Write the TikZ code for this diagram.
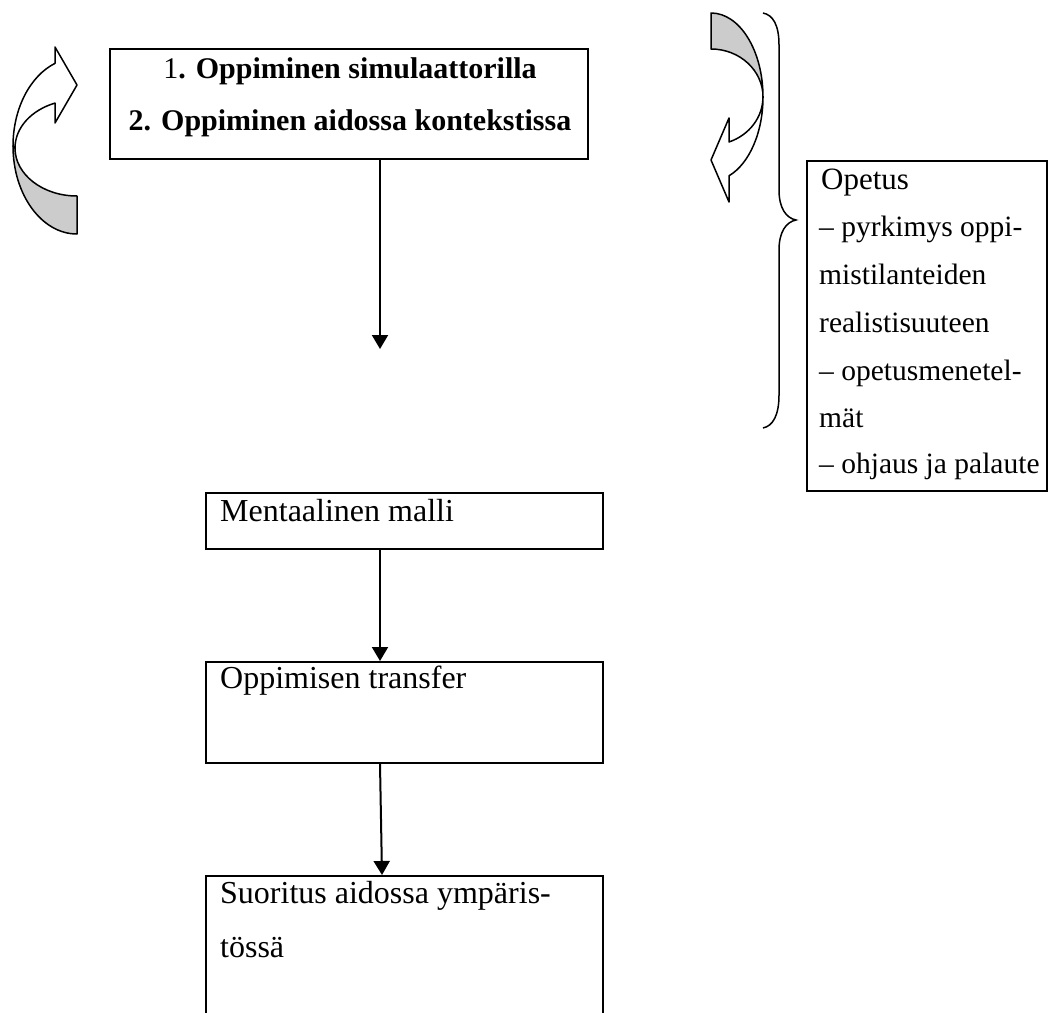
\documentclass[tikz,border=0pt]{standalone}
\usepackage{fontspec}
\setmainfont{Liberation Serif}
\usetikzlibrary{arrows.meta}
\begin{document}
\begin{tikzpicture}[x=1pt,y=-1pt,
  box/.style={draw, line width=2pt, inner sep=0pt, anchor=north west},
  bodytxt/.style={font=\fontsize{32}{38}\selectfont, inner sep=0pt, anchor=base west},
  toptxt/.style={font=\fontsize{30}{36}\selectfont, inner sep=0pt, anchor=base},
  sidetxt/.style={font=\fontsize{29.5}{36}\selectfont, inner sep=0pt, anchor=base west},
  conn/.style={line width=2pt, -{Triangle[length=14pt,width=16pt]}},
  curvline/.style={line width=1.5pt, line join=round},
  shadepart/.style={curvline, fill=black!20},
  frontpart/.style={curvline, fill=white}]
\useasboundingbox (0,0) rectangle (1048,1012);

% boxes
\node[box, minimum width=478pt, minimum height=110pt] (top) at (109,48) {};
\node[box, minimum width=397pt, minimum height=56pt] (ment) at (205,492) {};
\node[box, minimum width=397pt, minimum height=101pt] (trans) at (205,661) {};
\node[box, minimum width=397pt, minimum height=160pt] (suor) at (205,875) {};
\node[box, minimum width=240pt, minimum height=330pt] (opetus) at (806,160) {};

% texts
\node[toptxt] (t1) at (350,78) {1\textbf{. Oppiminen simulaattorilla}};
\node[toptxt] (t2) at (350,130) {\textbf{2. Oppiminen aidossa kontekstissa}};
\node[bodytxt] (m1) at (220,521) {Mentaalinen malli};
\node[bodytxt] (tr1) at (220,688) {Oppimisen transfer};
\node[bodytxt] (s1) at (220,903) {Suoritus aidossa ympäris-};
\node[bodytxt] (s2) at (220,957) {tössä};
\node[sidetxt, font=\fontsize{31}{36}\selectfont] (o1) at (821,189) {Opetus};
\node[sidetxt] (o2) at (819,236) {– pyrkimys oppi-};
\node[sidetxt] (o3) at (819,284) {mistilanteiden};
\node[sidetxt] (o4) at (819,332) {realistisuuteen};
\node[sidetxt] (o5) at (819,380) {– opetusmenetel-};
\node[sidetxt] (o6) at (819,427) {mät};
\node[sidetxt] (o7) at (819,473) {– ohjaus ja palaute};

% connectors
\coordinate (end1) at (380,349);
\draw[conn] (end1 |- top.south) -- (end1);
\draw[conn] ([xshift=-24.5pt]ment.south) -- ([xshift=-24.5pt]trans.north);
\draw[conn] ([xshift=-24.5pt]trans.south) -- ([xshift=-22.5pt]suor.north);

% left curved arrow
\draw[shadepart] (13,146) arc[start angle=180, end angle=90, x radius=64, y radius=88]
  -- (77,196) arc[start angle=90, end angle=180, x radius=62, y radius=48] -- cycle;
\draw[frontpart] (13,146) arc[start angle=180, end angle=250, x radius=64, y radius=88]
  -- (55,47) -- (77,85) -- (55,123) -- (55,103.1)
  arc[start angle=249.2, end angle=180, x radius=62, y radius=48] -- cycle;

% right curved arrow
\draw[shadepart] (711,13) arc[start angle=-90, end angle=0, x radius=52, y radius=84]
  arc[start angle=0, end angle=-90, x radius=52, y radius=48] -- cycle;
\draw[frontpart] (763,97) arc[start angle=0, end angle=69.7, x radius=52, y radius=84]
  -- (729,202) -- (711,160) -- (729,118) -- (729,142)
  arc[start angle=69.7, end angle=0, x radius=52, y radius=48] -- cycle;

% brace
\draw[line width=1.5pt] (763,13) .. controls (773,15) and (779,25) .. (779,45)
  -- (779,190) .. controls (779,208) and (786,218) .. (796,220)
  .. controls (786,222) and (779,232) .. (779,250)
  -- (779,395) .. controls (779,415) and (773,426) .. (763,428);
\end{tikzpicture}
\end{document}
